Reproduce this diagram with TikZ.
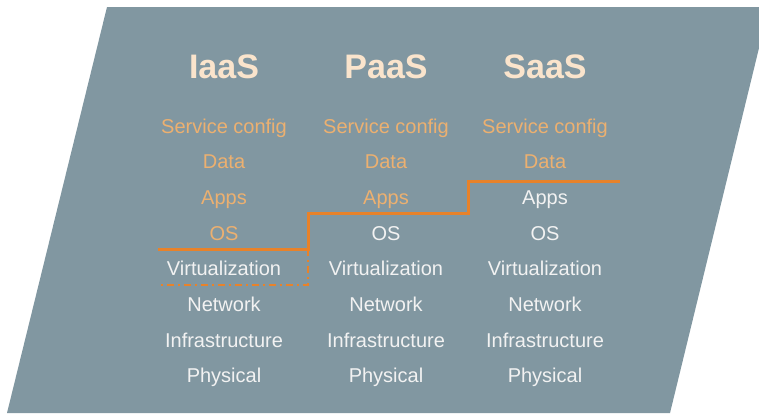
\documentclass[tikz,border=0pt]{standalone}
\usepackage{fontspec}
\setmainfont{Liberation Sans}
\definecolor{bgslate}{RGB}{129,151,161}
\definecolor{headcream}{RGB}{250,228,204}
\definecolor{txtorange}{RGB}{236,176,112}
\definecolor{txtwhite}{RGB}{242,242,242}
\definecolor{lineorange}{RGB}{232,130,42}
\tikzset{
  head/.style={anchor=base, inner sep=0pt, text=headcream, font=\fontsize{34}{40}\selectfont\bfseries},
  layo/.style={anchor=base, inner sep=0pt, text=txtorange, font=\fontsize{20}{24}\selectfont},
  layw/.style={anchor=base, inner sep=0pt, text=txtwhite, font=\fontsize{20}{24}\selectfont},
  border/.style={draw=lineorange, line width=3pt},
  dborder/.style={draw=lineorange, line width=2pt, dash pattern=on 7pt off 4pt on 2pt off 4pt},
}
\begin{document}
\begin{tikzpicture}[x=1pt,y=-1pt]
\useasboundingbox (0,0) rectangle (759,413);
\begin{scope}
\clip (0,0) rectangle (759,413);
\fill[bgslate] (107,7) -- (769,7) -- (670,413) -- (7,413) -- cycle;
\end{scope}
% headings
\node[head] (hI) at (224,78) {IaaS};
\node[head] (hP) at (386,78) {PaaS};
\node[head] (hS) at (545,78) {SaaS};
% IaaS column
\node[layo] (i1) at (224,133) {Service config};
\node[layo] (i2) at (224,168.7) {Data};
\node[layo] (i3) at (224,204.4) {Apps};
\node[layo] (i4) at (224,240.1) {OS};
\node[layw] (i5) at (224,275.8) {Virtualization};
\node[layw] (i6) at (224,311.5) {Network};
\node[layw] (i7) at (224,347.2) {Infrastructure};
\node[layw] (i8) at (224,382.9) {Physical};
% PaaS column
\node[layo] (p1) at (386,133) {Service config};
\node[layo] (p2) at (386,168.7) {Data};
\node[layo] (p3) at (386,204.4) {Apps};
\node[layw] (p4) at (386,240.1) {OS};
\node[layw] (p5) at (386,275.8) {Virtualization};
\node[layw] (p6) at (386,311.5) {Network};
\node[layw] (p7) at (386,347.2) {Infrastructure};
\node[layw] (p8) at (386,382.9) {Physical};
% SaaS column
\node[layo] (s1) at (545,133) {Service config};
\node[layo] (s2) at (545,168.7) {Data};
\node[layw] (s3) at (545,204.4) {Apps};
\node[layw] (s4) at (545,240.1) {OS};
\node[layw] (s5) at (545,275.8) {Virtualization};
\node[layw] (s6) at (545,311.5) {Network};
\node[layw] (s7) at (545,347.2) {Infrastructure};
\node[layw] (s8) at (545,382.9) {Physical};
% boundary line
\coordinate (a0) at (158,249);
\coordinate (a1) at (308,249);
\coordinate (a2) at (308,213);
\coordinate (a3) at (468,213);
\coordinate (a4) at (468,181);
\coordinate (a5) at (620,181);
\draw[border, line join=miter] (a0) -- (a1) -- (a2) -- (a3) -- (a4) -- (a5);
\coordinate (d0) at (158,285);
\coordinate (d1) at (308,285);
\draw[dborder] (a1) -- (d1) -- (d0);
\end{tikzpicture}
\end{document}
